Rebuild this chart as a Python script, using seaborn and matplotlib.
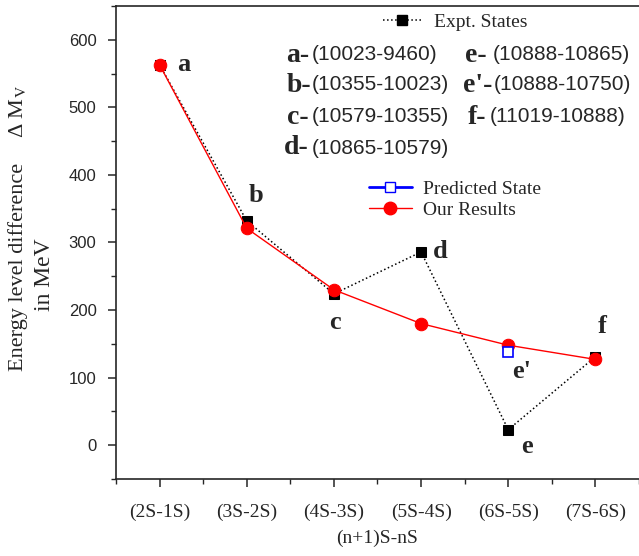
import numpy as np
import pandas as pd
import matplotlib
matplotlib.use("Agg")
import matplotlib.pyplot as plt
from matplotlib.lines import Line2D
from matplotlib.ticker import MultipleLocator
import seaborn as sns

# values (MeV)
transitions = ["(2S-1S)", "(3S-2S)", "(4S-3S)", "(5S-4S)", "(6S-5S)", "(7S-6S)"]
expt = [563, 332, 224, 286, 23, 131]
ours = [563, 321, 230, 180, 148, 127]
pred_pos = [4]
pred = [138]

point_labels = ["a", "b", "c", "d", "e", "f"]
pair_labels = ["a-", "b-", "c-", "d-", "e-", "e'-", "f-"]
pair_texts = ["(10023-9460)", "(10355-10023)", "(10579-10355)", "(10865-10579)",
              "(10888-10865)", "(10888-10750)", "(11019-10888)"]

sns.set_style("ticks")
plt.rcParams["font.family"] = ["Liberation Serif", "DejaVu Serif"]
plt.rcParams["mathtext.fontset"] = "stix"

df = pd.DataFrame({"x": np.arange(len(transitions)), "expt": expt, "ours": ours})

fig = plt.figure(figsize=(6.39, 5.56), dpi=100)
ax = fig.add_axes([116 / 639, 1 - 479 / 556, 523 / 639, 473 / 556])

sns.lineplot(data=df, x="x", y="expt", ax=ax, color="black", linestyle=":", lw=1.1,
             marker="s", markersize=7, markeredgecolor="black", sort=False, zorder=2)
sns.lineplot(data=df, x="x", y="ours", ax=ax, color="red", lw=1.0,
             marker="o", markersize=9, markeredgecolor="red", sort=False, zorder=3)
sns.lineplot(x=pred_pos, y=pred, ax=ax, color="blue", lw=0, marker="s", markersize=7,
             markerfacecolor="white", markeredgecolor="blue", markeredgewidth=1.2, zorder=4)

ax.set_xlim(-0.5, 5.5)
ax.set_ylim(-50, 650)
ax.set_xticks(df["x"])
ax.set_xticklabels(transitions, fontsize=14)
ax.xaxis.set_minor_locator(MultipleLocator(0.5))
ax.yaxis.set_major_locator(MultipleLocator(100))
ax.yaxis.set_minor_locator(MultipleLocator(50))
for lab in ax.get_yticklabels():
    lab.set_fontfamily("Liberation Sans")
    lab.set_fontsize(12)
ax.tick_params(axis="both", which="major", direction="out", length=6, width=1.1)
ax.tick_params(axis="both", which="minor", direction="out", length=3.5, width=1.0)
ax.tick_params(axis="x", pad=12)
ax.tick_params(axis="y", pad=8)
for s in ["left", "bottom", "top"]:
    ax.spines[s].set_linewidth(1.2)
ax.spines["right"].set_visible(False)

ax.set_xlabel("(n+1)S-nS", fontsize=14, labelpad=6)
ax.set_ylabel("")
fig.text(18 / 639, 1 - 267 / 556, "Energy level difference", rotation=90,
         ha="center", va="center", fontsize=16)
fig.text(18 / 639, 1 - 112 / 556, "Δ M$_{\\rm V}$", rotation=90,
         ha="center", va="center", fontsize=16)
fig.text(44 / 639, 1 - 275 / 556, "in MeV", rotation=90,
         ha="center", va="center", fontsize=17)

# letters beside the points
offsets = [(24, 0), (9, -25), (1, 29), (19, 0), (19, 17), (7, -30)]
for i, (lab, (dx, dy)) in enumerate(zip(point_labels, offsets)):
    ax.annotate(lab, (i, expt[i]), xytext=(dx * 0.72, -dy * 0.72), textcoords="offset points",
                ha="center", va="center", fontsize=19, fontweight="bold")
ax.annotate("e'", (pred_pos[0], pred[0]), xytext=(13 * 0.72, -20 * 0.72),
            textcoords="offset points", ha="center", va="center", fontsize=19, fontweight="bold")

# text block with mass pairs
letter_px = [(286, 55), (287, 85), (287, 117), (284, 148), (465, 55), (463, 85), (468, 117)]
text_px = [312, 312, 312, 312, 493, 494, 490]
for lab, txt, (lx, ly), tx in zip(pair_labels, pair_texts, letter_px, text_px):
    ya = (479 - ly) / 473
    ax.text((lx - 116) / 523, ya, lab, transform=ax.transAxes, ha="left", va="center",
            fontsize=20, fontweight="bold")
    ax.text((tx - 116) / 523, ya, txt, transform=ax.transAxes, ha="left", va="center",
            fontsize=15, fontfamily="Liberation Sans")

h_expt = Line2D([], [], color="black", linestyle=":", lw=1.1, marker="s", markersize=7)
leg1 = ax.legend([h_expt], ["Expt. States"], loc="center left",
                 bbox_to_anchor=((383 - 116) / 523, (479 - 22) / 473),
                 frameon=False, fontsize=14, handlelength=2.0, handletextpad=0.6,
                 borderpad=0, borderaxespad=0)
ax.add_artist(leg1)
h_pred = Line2D([], [], color="blue", lw=2, marker="s", markersize=7,
                markerfacecolor="white", markeredgecolor="blue")
h_ours = Line2D([], [], color="red", lw=1.0, marker="o", markersize=9)
ax.legend([h_pred, h_ours], ["Predicted State", "Our Results"], loc="center left",
          bbox_to_anchor=((369 - 116) / 523, (479 - 199.5) / 473),
          frameon=False, fontsize=14, handlelength=2.2, handletextpad=0.6,
          labelspacing=0.2, borderpad=0, borderaxespad=0)

fig.savefig("out.png", dpi=100)
